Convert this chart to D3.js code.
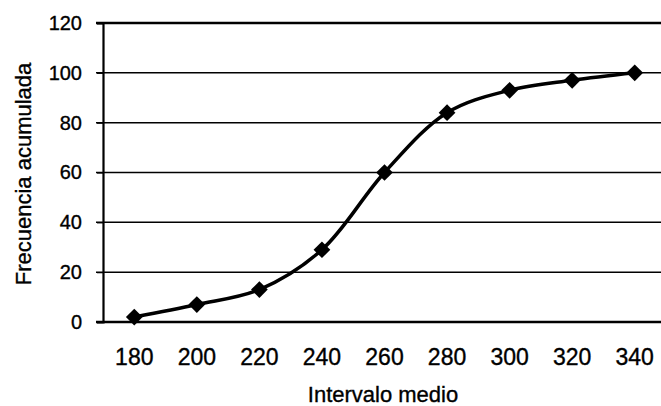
<!DOCTYPE html>
<html>
<head>
<meta charset="utf-8">
<script src="https://cdn.jsdelivr.net/npm/d3@7"></script>
<style>
  body { margin: 0; background: #fff; }
  svg { display: block; font-family: "Liberation Sans", Arial, sans-serif; }
  text { stroke: #000; stroke-width: 0.35px; }
</style>
</head>
<body>
<svg id="chart"></svg>
<script>
// values
let intervals = ["180", "200", "220", "240", "260", "280", "300", "320", "340"];
let cumulative = [2, 7, 13, 29, 60, 84, 93, 97, 100];
let yTicks = [0, 20, 40, 60, 80, 100, 120];

let margin = {top: 23, right: 0, bottom: 84, left: 103},
    width = 563,
    height = 322 - margin.top;

let svg = d3.select("#chart")
        .attr("width", 661)
        .attr("height", 406),
    g = svg.append("g")
        .attr("transform", "translate(" + margin.left + "," + margin.top + ")");

let x = d3.scaleBand()
    .domain(intervals)
    .range([0, width]);

let y = d3.scaleLinear()
    .domain([0, 120])
    .range([height, 0]);

// horizontal grid lines
g.append("g")
    .selectAll("line")
    .data(yTicks)
    .enter()
    .append("line")
    .attr("x1", -7)
    .attr("x2", width)
    .attr("y1", d => y(d))
    .attr("y2", d => y(d))
    .attr("stroke", "#000")
    .attr("stroke-width", d => (d == 0 || d == 120) ? 2.4 : 1.5);

// y axis
let yAxis = g.append("g")
    .call(d3.axisLeft(y).tickValues(yTicks).tickSize(6).tickPadding(15));
yAxis.select(".domain")
    .attr("stroke-width", 2.2);
yAxis.selectAll(".tick line")
    .attr("stroke-width", 1.2);
yAxis.selectAll("text")
    .attr("font-size", 20)
    .attr("fill", "#000");

// x axis labels
let xAxis = g.append("g")
    .attr("transform", "translate(0," + height + ")")
    .call(d3.axisBottom(x).tickSize(0).tickPadding(27));
xAxis.select(".domain").remove();
xAxis.selectAll("text")
    .attr("font-size", 23)
    .attr("fill", "#000");

// smoothed line
let line = d3.line()
    .x((d, i) => x(intervals[i]) + x.bandwidth() / 2)
    .y(d => y(d))
    .curve(d3.curveCatmullRom);

g.append("path")
    .datum(cumulative)
    .attr("d", line)
    .attr("fill", "none")
    .attr("stroke", "#000")
    .attr("stroke-width", 3.5);

// diamond markers
g.selectAll(".marker")
    .data(cumulative)
    .enter()
    .append("path")
    .classed("marker", true)
    .attr("d", d3.symbol().type(d3.symbolSquare).size(140))
    .attr("transform", (d, i) =>
        "translate(" + (x(intervals[i]) + x.bandwidth() / 2) + "," + y(d) + ") rotate(45)")
    .attr("fill", "#000");

// axis titles
svg.append("text")
    .attr("x", 383)
    .attr("y", 402)
    .attr("text-anchor", "middle")
    .attr("font-size", 22)
    .text("Intervalo medio");

svg.append("text")
    .attr("transform", "translate(31,174) rotate(-90)")
    .attr("text-anchor", "middle")
    .attr("font-size", 22)
    .text("Frecuencia acumulada");
</script>
</body>
</html>
